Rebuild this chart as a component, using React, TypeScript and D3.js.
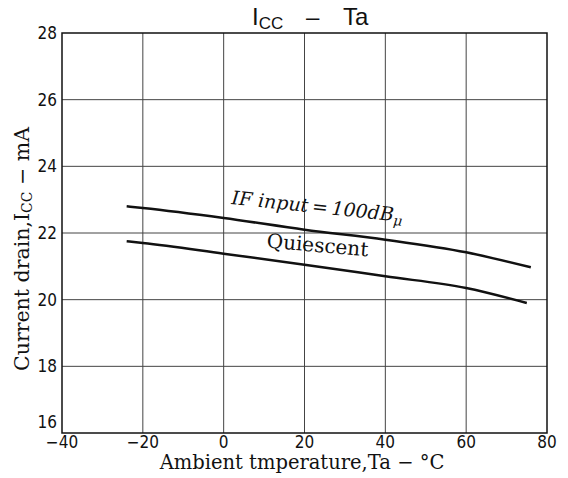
import React from "react";
import * as d3 from "d3";

const temps = [-24, -20, 0, 20, 40, 60, 76];
const ifInput = [22.8, 22.75, 22.45, 22.1, 21.8, 21.42, 20.97];
const quietTemps = [-24, -20, 0, 20, 40, 60, 75];
const quiescent = [21.75, 21.7, 21.38, 21.05, 20.7, 20.35, 19.9];
const xTicks = [-40, -20, 0, 20, 40, 60, 80];
const yTicks = [16, 18, 20, 22, 24, 26, 28];

const W = 568, H = 478;
const L = 62, R = 547, T = 33, B = 433;

export default function App() {
  const x = d3.scaleLinear().domain([-40, 80]).range([L, R]);
  const y = d3.scaleLinear().domain([16, 28]).range([B, T]);
  const line = d3.line<[number, number]>().x(d => x(d[0])).y(d => y(d[1])).curve(d3.curveMonotoneX);
  const ifPts = temps.map((t, i) => [t, ifInput[i]] as [number, number]);
  const qPts = quietTemps.map((t, i) => [t, quiescent[i]] as [number, number]);
  const tickFont = "'DejaVu Sans Condensed', 'DejaVu Sans', sans-serif";
  const serif = "'DejaVu Serif', serif";
  return (
    <svg width={W} height={H} style={{ position: "absolute", left: 0, top: 0, background: "#fff" }}>
      {xTicks.slice(1, -1).map(t => (
        <line key={"gx" + t} x1={x(t)} x2={x(t)} y1={T} y2={B} stroke="#444" strokeWidth={1} />
      ))}
      {yTicks.slice(1, -1).map(t => (
        <line key={"gy" + t} x1={L} x2={R} y1={y(t)} y2={y(t)} stroke="#444" strokeWidth={1} />
      ))}
      <rect x={L} y={T} width={R - L} height={B - T} fill="none" stroke="#111" strokeWidth={1.5} />
      {yTicks.map(t => (
        <text key={"ty" + t} x={L - 5} y={t === 16 ? y(t) - 11 : y(t)} dy="0.35em" textAnchor="end"
          fontFamily={tickFont} fontSize={17} fill="#111">{t}</text>
      ))}
      {xTicks.map(t => (
        <text key={"tx" + t} x={x(t)} y={B + 15} textAnchor="middle"
          fontFamily={tickFont} fontSize={17} fill="#111">{t < 0 ? "\u2212" + Math.abs(t) : t}</text>
      ))}
      <path d={line(ifPts) || ""} fill="none" stroke="#111" strokeWidth={2.5} />
      <path d={line(qPts) || ""} fill="none" stroke="#111" strokeWidth={2.5} />
      <text transform={`translate(231,204) rotate(6)`} fontFamily={serif} fontStyle="italic" fontSize={19} fill="#111">
        IF input{"\u2009=\u2009"}100dB<tspan fontSize={14} dy={4}>μ</tspan>
      </text>
      <text transform={`translate(317,252) rotate(5)`} textAnchor="middle" fontFamily={serif} fontSize={20} fill="#111">
        Quiescent
      </text>
      <text y={25} fontFamily="'Liberation Sans', sans-serif" fontSize={24} fill="#111">
        <tspan x={252}>I</tspan>
        <tspan fontSize={17} dy={4}>CC</tspan>
        <tspan x={306} dy={-4}>{"\u2013"}</tspan>
        <tspan x={343}>Ta</tspan>
      </text>
      <text x={302} y={469} textAnchor="middle" fontFamily={serif} fontSize={19.5} fill="#111">
        Ambient tmperature,Ta − °C
      </text>
      <text transform={`translate(29,249) rotate(-90)`} textAnchor="middle" fontFamily={serif} fontSize={20.5} fill="#111">
        Current drain,I<tspan fontSize={14} dy={3}>CC</tspan><tspan dy={-3}> − mA</tspan>
      </text>
    </svg>
  );
}
